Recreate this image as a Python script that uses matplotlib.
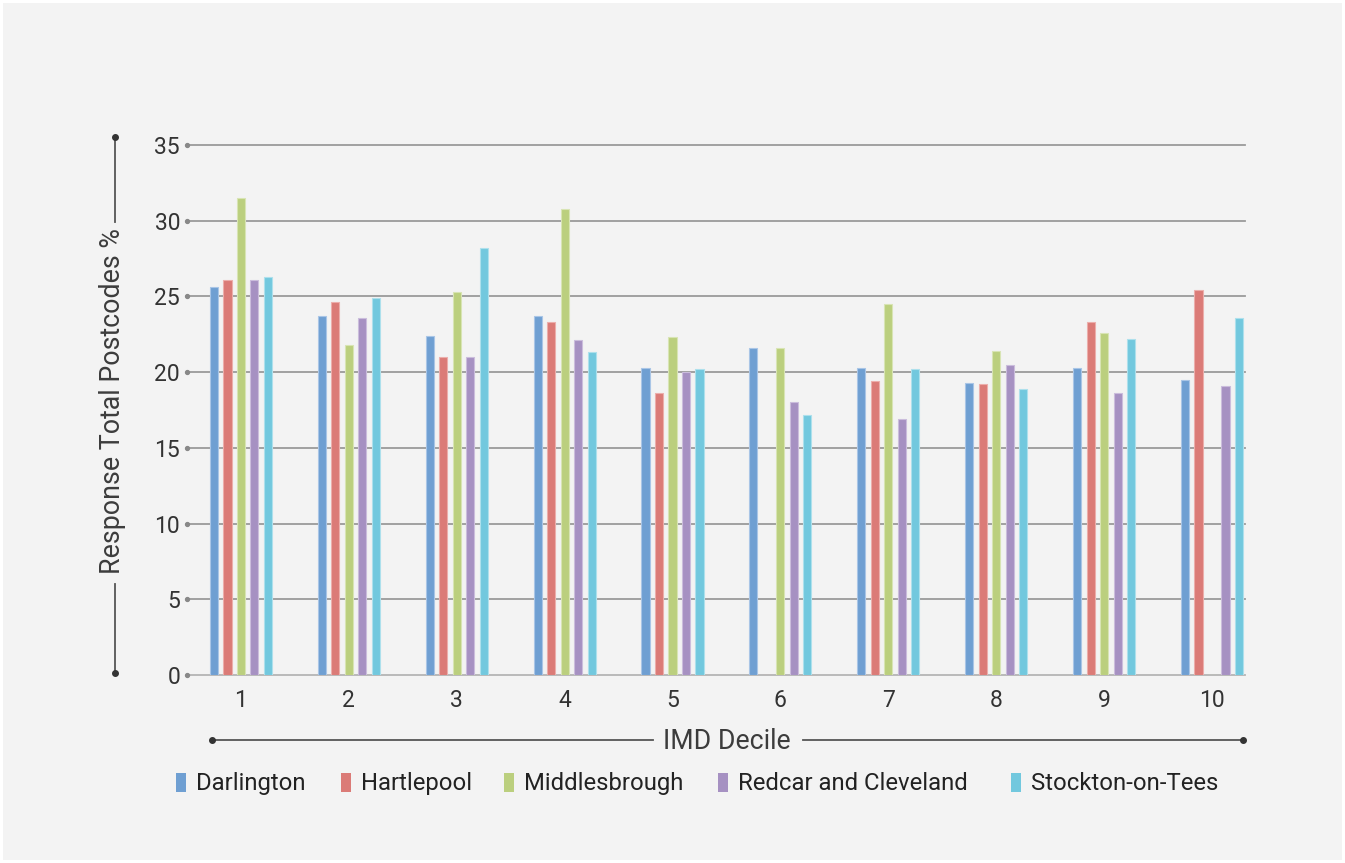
import numpy as np
import matplotlib.pyplot as plt
from matplotlib.patches import Rectangle
from matplotlib.lines import Line2D

plt.rcParams['font.family'] = ['Roboto', 'DejaVu Sans']

# IMD deciles and response share (%) for each local authority
deciles = ['1', '2', '3', '4', '5', '6', '7', '8', '9', '10']
authorities = ['Darlington', 'Hartlepool', 'Middlesbrough', 'Redcar and Cleveland', 'Stockton-on-Tees']
darlington = [25.6, 23.7, 22.4, 23.7, 20.3, 21.6, 20.3, 19.3, 20.3, 19.5]
hartlepool = [26.1, 24.6, 21.0, 23.3, 18.6, 0.0, 19.4, 19.2, 23.3, 25.4]
middlesbrough = [31.5, 21.8, 25.3, 30.8, 22.3, 21.6, 24.5, 21.4, 22.6, 0.0]
redcar = [26.1, 23.6, 21.0, 22.1, 20.0, 18.0, 16.9, 20.5, 18.6, 19.1]
stockton = [26.3, 24.9, 28.2, 21.3, 20.2, 17.2, 20.2, 18.9, 22.2, 23.6]
series = [darlington, hartlepool, middlesbrough, redcar, stockton]

colors = ['#6f9fd2', '#db7b77', '#bbcf7e', '#a691c2', '#72c8de']
edges = ['#a9c5e6', '#ecaeab', '#d8e4b4', '#cbbddc', '#ade0ec']
y_ticks = [0, 5, 10, 15, 20, 25, 30, 35]

W, H = 1345, 863
fig = plt.figure(figsize=(W / 100, H / 100), dpi=100, facecolor='white')
# light grey panel inside a thin white border
fig.patches.append(Rectangle((3 / W, 3 / H), (W - 6) / W, (H - 6) / H,
                             transform=fig.transFigure, facecolor='#f3f3f3',
                             edgecolor='none', zorder=-5))

ax = fig.add_axes([187 / W, (H - 675) / H, (1245 - 187) / W, (675 - 145) / H])
ax.set_facecolor('none')

x = np.arange(len(deciles))
step = 0.125
bar_w = 0.075
for i, vals in enumerate(series):
    ax.bar(x + (i - 2) * step, vals, width=bar_w, color=colors[i],
           edgecolor=edges[i], linewidth=0.8, zorder=3)

# horizontal grid with a dot at the left end of each line
for t in y_ticks:
    c = '#b4b4b4' if t == 0 else '#9a9a9a'
    ax.plot([-0.5, 9.306], [t, t], color=c, lw=1.3, zorder=1, clip_on=False)
    ax.plot([-0.5], [t], marker='o', ms=2.8, color='#888888', zorder=2, clip_on=False)

ax.set_xlim(-0.5, 9.306)
ax.set_ylim(0, 35)
ax.set_xticks(x)
ax.set_xticklabels(deciles)
ax.set_yticks(y_ticks)
ax.tick_params(axis='both', length=0, labelsize=16.5, labelcolor='#333333')
ax.tick_params(axis='y', pad=5)
ax.tick_params(axis='x', pad=10)
for s in ax.spines.values():
    s.set_visible(False)

line_c = '#555555'
# y axis title with bracket lines
fig.text(113 / W, 1 - 401 / H, 'Response Total Postcodes %', rotation=90,
         ha='center', va='center', fontsize=19.3, color='#3c3c3c')
fig.add_artist(Line2D([115 / W, 115 / W], [1 - 137 / H, 1 - 222 / H], color=line_c, lw=1.3))
fig.add_artist(Line2D([115 / W, 115 / W], [1 - 584 / H, 1 - 673 / H], color=line_c, lw=1.3))
fig.add_artist(Line2D([115 / W], [1 - 137 / H], marker='o', ms=4, color='#333333'))
fig.add_artist(Line2D([115 / W], [1 - 673 / H], marker='o', ms=4, color='#333333'))

# x axis title with bracket lines
fig.text(727 / W, 1 - 741 / H, 'IMD Decile', ha='center', va='center',
         fontsize=19.2, color='#3c3c3c')
fig.add_artist(Line2D([212 / W, 653 / W], [1 - 740 / H, 1 - 740 / H], color=line_c, lw=1.3))
fig.add_artist(Line2D([803 / W, 1243 / W], [1 - 740 / H, 1 - 740 / H], color=line_c, lw=1.3))
fig.add_artist(Line2D([212 / W], [1 - 740 / H], marker='o', ms=4, color='#333333'))
fig.add_artist(Line2D([1243 / W], [1 - 740 / H], marker='o', ms=4, color='#333333'))

# legend row
leg_x = [176, 341, 504, 718, 1011]
for name, c, lx in zip(authorities, colors, leg_x):
    fig.patches.append(Rectangle((lx / W, 1 - 792 / H), 10 / W, 19 / H,
                                 transform=fig.transFigure, facecolor=c,
                                 edgecolor='none'))
    fig.text((lx + 20) / W, 1 - 783 / H, name, ha='left', va='center',
             fontsize=17.2, color='#222222')

fig.savefig('out.png', dpi=100, facecolor=fig.get_facecolor())
